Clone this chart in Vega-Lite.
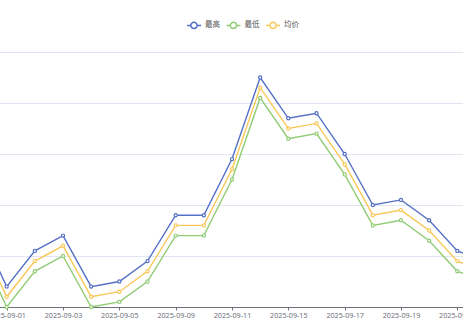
{
  "$schema": "https://vega.github.io/schema/vega-lite/v6.json",
  "width": 463,
  "height": 255,
  "autosize": {"type": "none"},
  "padding": {"top": 52, "bottom": 19, "left": 0, "right": 0},
  "background": "white",
  "config": {"view": {"stroke": null}, "font": "Noto Sans CJK SC"},
  "data": {"values": [
    {"date": "2025-08-29", "s": "最高", "v": 80}, {"date": "2025-08-29", "s": "均价", "v": 70}, {"date": "2025-08-29", "s": "最低", "v": 60},
    {"date": "2025-09-01", "s": "最高", "v": 20}, {"date": "2025-09-01", "s": "均价", "v": 10}, {"date": "2025-09-01", "s": "最低", "v": 0},
    {"date": "2025-09-02", "s": "最高", "v": 55}, {"date": "2025-09-02", "s": "均价", "v": 45}, {"date": "2025-09-02", "s": "最低", "v": 35},
    {"date": "2025-09-03", "s": "最高", "v": 70}, {"date": "2025-09-03", "s": "均价", "v": 60}, {"date": "2025-09-03", "s": "最低", "v": 50},
    {"date": "2025-09-04", "s": "最高", "v": 20}, {"date": "2025-09-04", "s": "均价", "v": 10}, {"date": "2025-09-04", "s": "最低", "v": 0},
    {"date": "2025-09-05", "s": "最高", "v": 25}, {"date": "2025-09-05", "s": "均价", "v": 15}, {"date": "2025-09-05", "s": "最低", "v": 5},
    {"date": "2025-09-08", "s": "最高", "v": 45}, {"date": "2025-09-08", "s": "均价", "v": 35}, {"date": "2025-09-08", "s": "最低", "v": 25},
    {"date": "2025-09-09", "s": "最高", "v": 90}, {"date": "2025-09-09", "s": "均价", "v": 80}, {"date": "2025-09-09", "s": "最低", "v": 70},
    {"date": "2025-09-10", "s": "最高", "v": 90}, {"date": "2025-09-10", "s": "均价", "v": 80}, {"date": "2025-09-10", "s": "最低", "v": 70},
    {"date": "2025-09-11", "s": "最高", "v": 145}, {"date": "2025-09-11", "s": "均价", "v": 135}, {"date": "2025-09-11", "s": "最低", "v": 125},
    {"date": "2025-09-12", "s": "最高", "v": 225}, {"date": "2025-09-12", "s": "均价", "v": 215}, {"date": "2025-09-12", "s": "最低", "v": 205},
    {"date": "2025-09-15", "s": "最高", "v": 185}, {"date": "2025-09-15", "s": "均价", "v": 175}, {"date": "2025-09-15", "s": "最低", "v": 165},
    {"date": "2025-09-16", "s": "最高", "v": 190}, {"date": "2025-09-16", "s": "均价", "v": 180}, {"date": "2025-09-16", "s": "最低", "v": 170},
    {"date": "2025-09-17", "s": "最高", "v": 150}, {"date": "2025-09-17", "s": "均价", "v": 140}, {"date": "2025-09-17", "s": "最低", "v": 130},
    {"date": "2025-09-18", "s": "最高", "v": 100}, {"date": "2025-09-18", "s": "均价", "v": 90}, {"date": "2025-09-18", "s": "最低", "v": 80},
    {"date": "2025-09-19", "s": "最高", "v": 105}, {"date": "2025-09-19", "s": "均价", "v": 95}, {"date": "2025-09-19", "s": "最低", "v": 85},
    {"date": "2025-09-22", "s": "最高", "v": 85}, {"date": "2025-09-22", "s": "均价", "v": 75}, {"date": "2025-09-22", "s": "最低", "v": 65},
    {"date": "2025-09-23", "s": "最高", "v": 55}, {"date": "2025-09-23", "s": "均价", "v": 45}, {"date": "2025-09-23", "s": "最低", "v": 35},
    {"date": "2025-09-24", "s": "最高", "v": 45}, {"date": "2025-09-24", "s": "均价", "v": 35}, {"date": "2025-09-24", "s": "最低", "v": 25}
  ]},
  "mark": {"type": "line", "strokeWidth": 1.4, "point": {"filled": false, "fill": "white", "size": 10, "strokeWidth": 1.2}},
  "encoding": {
    "x": {
      "field": "date", "type": "ordinal", "sort": null,
      "scale": {"type": "point", "padding": 0, "domain": ["2025-08-29","2025-09-01","2025-09-02","2025-09-03","2025-09-04","2025-09-05","2025-09-08","2025-09-09","2025-09-10","2025-09-11","2025-09-12","2025-09-15","2025-09-16","2025-09-17","2025-09-18","2025-09-19","2025-09-22","2025-09-23","2025-09-24"], "range": [-21.5, 485.5]},
      "axis": {"title": null, "values": ["2025-09-01","2025-09-03","2025-09-05","2025-09-09","2025-09-11","2025-09-15","2025-09-17","2025-09-19","2025-09-23"], "grid": false, "domainColor": "#6E7079", "domainWidth": 1, "tickColor": "#6E7079", "tickSize": 3, "labelColor": "#6E7079", "labelFontSize": 7.2, "labelPadding": 1, "labelAngle": 0, "labelFlush": false, "labelOverlap": false, "labelBound": false, "labelFont": "Noto Sans"}
    },
    "y": {
      "field": "v", "type": "quantitative",
      "scale": {"domain": [0, 250], "nice": false, "zero": false},
      "axis": {"title": null, "values": [0, 50, 100, 150, 200, 250], "labels": false, "ticks": false, "domain": false, "gridColor": "#E0E6F1", "gridWidth": 1}
    },
    "color": {
      "field": "s", "type": "nominal",
      "scale": {"domain": ["最高", "最低", "均价"], "range": ["#5470c6", "#91cc75", "#fac858"]},
      "legend": {"title": null, "orient": "none", "legendX": 186, "legendY": -35, "direction": "horizontal", "columns": 3, "columnPadding": 3.5, "symbolType": "M-1,0L-0.45,0M0.45,0L1,0M0.45,0A0.45,0.45,0,1,1,-0.45,0A0.45,0.45,0,1,1,0.45,0", "symbolSize": 196, "symbolStrokeWidth": 1.5, "symbolFillColor": "white", "labelFontSize": 7.5, "labelColor": "#555", "labelOffset": 3, "padding": 0}
    }
  }
}
